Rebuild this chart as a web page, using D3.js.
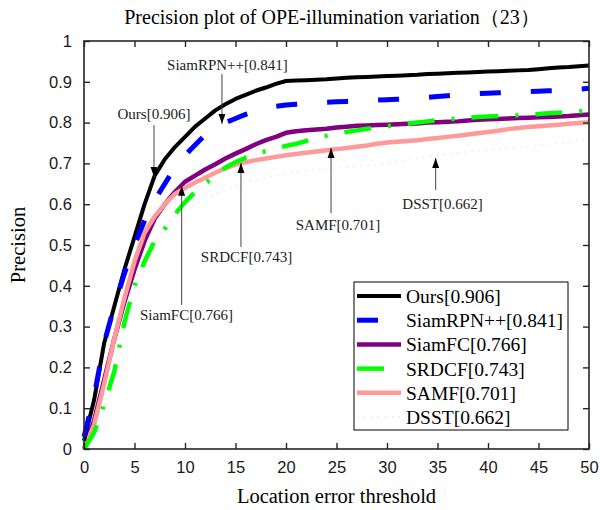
<!DOCTYPE html>
<html>
<head>
<meta charset="utf-8">
<script src="https://cdn.jsdelivr.net/npm/d3@7"></script>
<style>
  body { margin: 0; background: #fff; }
  svg { display: block; }
</style>
</head>
<body>
<svg></svg>
<script>
const width = 600;
const height = 510;

// location error thresholds (px)
const thresholds = d3.range(0, 51);
const xTicks = [0, 5, 10, 15, 20, 25, 30, 35, 40, 45, 50];
const yTicks = [0, 0.1, 0.2, 0.3, 0.4, 0.5, 0.6, 0.7, 0.8, 0.9, 1];

const ours = [0.02,0.12,0.26,0.35,0.44,0.52,0.60,0.67,0.71,0.74,
  0.765,0.79,0.81,0.83,0.845,0.858,0.868,0.878,0.886,0.895,
  0.902,0.903,0.904,0.905,0.906,0.908,0.910,0.911,0.912,0.913,
  0.914,0.915,0.916,0.917,0.919,0.920,0.921,0.922,0.923,0.924,
  0.925,0.926,0.927,0.928,0.929,0.931,0.933,0.935,0.936,0.938,
  0.940];
const siamrpn = [0.03,0.13,0.26,0.35,0.43,0.50,0.56,0.61,0.65,0.69,
  0.72,0.745,0.77,0.785,0.80,0.81,0.82,0.828,0.835,0.84,
  0.843,0.845,0.847,0.849,0.85,0.851,0.852,0.853,0.854,0.855,
  0.856,0.857,0.858,0.86,0.862,0.864,0.866,0.868,0.87,0.871,
  0.872,0.873,0.874,0.875,0.876,0.877,0.878,0.879,0.88,0.882,
  0.884];
const siamfc = [0.0,0.07,0.17,0.27,0.36,0.44,0.51,0.565,0.60,0.63,
  0.655,0.67,0.685,0.698,0.712,0.724,0.735,0.747,0.757,0.765,
  0.775,0.779,0.781,0.783,0.785,0.788,0.79,0.792,0.793,0.794,
  0.795,0.796,0.797,0.798,0.80,0.801,0.802,0.803,0.805,0.807,
  0.808,0.809,0.81,0.811,0.812,0.813,0.814,0.815,0.816,0.818,
  0.82];
const srdcf = [0.0,0.04,0.11,0.19,0.31,0.40,0.46,0.51,0.54,0.575,
  0.605,0.63,0.65,0.67,0.69,0.703,0.714,0.722,0.73,0.737,
  0.743,0.748,0.755,0.762,0.768,0.773,0.777,0.781,0.785,0.788,
  0.791,0.794,0.797,0.80,0.803,0.806,0.808,0.81,0.812,0.814,
  0.815,0.816,0.817,0.818,0.82,0.821,0.823,0.824,0.825,0.827,
  0.829];
const samf = [0.0,0.06,0.16,0.27,0.37,0.46,0.53,0.57,0.60,0.625,
  0.64,0.653,0.665,0.677,0.688,0.697,0.703,0.708,0.712,0.716,
  0.72,0.723,0.726,0.729,0.732,0.735,0.738,0.741,0.744,0.748,
  0.751,0.753,0.755,0.757,0.76,0.762,0.765,0.768,0.771,0.774,
  0.777,0.78,0.784,0.787,0.789,0.791,0.793,0.795,0.797,0.799,
  0.801];
const dsst = [0.0,0.05,0.14,0.24,0.33,0.41,0.47,0.51,0.54,0.57,
  0.59,0.60,0.61,0.625,0.635,0.645,0.653,0.66,0.665,0.67,
  0.675,0.678,0.681,0.684,0.687,0.689,0.691,0.693,0.695,0.697,
  0.70,0.704,0.708,0.712,0.716,0.72,0.723,0.726,0.729,0.731,
  0.733,0.735,0.737,0.739,0.741,0.744,0.747,0.75,0.752,0.755,
  0.757];

const trackers = ["Ours[0.906]", "SiamRPN++[0.841]", "SiamFC[0.766]", "SRDCF[0.743]", "SAMF[0.701]", "DSST[0.662]"];
const seriesValues = [ours, siamrpn, siamfc, srdcf, samf, dsst];

// arrow callouts, in data units
const callouts = [
  {label: "SiamRPN++[0.841]", x: 13.66, tip: 0.797, tail: 0.919, tx: 14.2, ty: 0.929},
  {label: "Ours[0.906]", x: 6.93, tip: 0.667, tail: 0.794, tx: 6.93, ty: 0.809},
  {label: "SiamFC[0.766]", x: 9.67, tip: 0.645, tail: 0.353, tx: 10.15, ty: 0.316},
  {label: "SRDCF[0.743]", x: 15.54, tip: 0.701, tail: 0.495, tx: 16.09, ty: 0.458},
  {label: "SAMF[0.701]", x: 24.46, tip: 0.738, tail: 0.578, tx: 25.15, ty: 0.537},
  {label: "DSST[0.662]", x: 34.82, tip: 0.713, tail: 0.635, tx: 35.5, ty: 0.588}
];

const styles = [
  {color: "#000000", w: 4, dash: null},
  {color: "#0000ff", w: 5, dash: "21,30"},
  {color: "#800080", w: 4.5, dash: null},
  {color: "#00ff00", w: 4.5, dash: "27,17,3,17"},
  {color: "#ff9a9a", w: 4.5, dash: null},
  {color: "#d6ecfb", w: 2, dash: "1,6"}
];
const drawOrder = [5, 2, 4, 3, 0, 1];

const margin = {left: 84, right: 11, top: 41, bottom: 61};
const svg = d3.select("svg").attr("width", width).attr("height", height);

const x = d3.scaleLinear().domain([0, 50]).range([margin.left, width - margin.right]);
const y = d3.scaleLinear().domain([0, 1]).range([height - margin.bottom, margin.top]);

const serif = "'Liberation Serif', 'Times New Roman', serif";
const sans = "'Liberation Sans', Arial, sans-serif";

// lines
const line = d3.line().x((d, i) => x(thresholds[i])).y(d => y(d));
const linesG = svg.append("g");
linesG.selectAll("path")
  .data(drawOrder)
  .enter().append("path")
  .attr("d", k => line(seriesValues[k]))
  .attr("fill", "none")
  .attr("stroke", k => styles[k].color)
  .attr("stroke-width", k => styles[k].w)
  .attr("stroke-dasharray", k => styles[k].dash)
  .attr("stroke-linejoin", "round");

// axes (box with inward ticks)
const axisColor = "#262626";
const tickLen = 6;
const axG = svg.append("g");
axG.append("rect")
  .attr("x", x(0)).attr("y", y(1))
  .attr("width", x(50) - x(0)).attr("height", y(0) - y(1))
  .attr("fill", "none").attr("stroke", axisColor).attr("stroke-width", 1.6);

const bottomAxis = d3.axisBottom(x).tickValues(xTicks).tickSize(-tickLen).tickPadding(12).tickFormat(d3.format("d"));
const topAxis = d3.axisTop(x).tickValues(xTicks).tickSize(-tickLen).tickFormat("");
const leftAxis = d3.axisLeft(y).tickValues(yTicks).tickSize(-tickLen).tickPadding(12).tickFormat(d => d === 0 || d === 1 ? d3.format("d")(d) : d3.format(".1f")(d));
const rightAxis = d3.axisRight(y).tickValues(yTicks).tickSize(-tickLen).tickFormat("");

const styleAxis = g => {
  g.select(".domain").remove();
  g.selectAll(".tick line").attr("stroke", axisColor).attr("stroke-width", 1.4);
  g.selectAll(".tick text").attr("fill", "#1a1a1a").style("font-family", sans).style("font-size", "16.5px");
};
axG.append("g").attr("transform", `translate(0,${y(0)})`).call(bottomAxis).call(styleAxis);
axG.append("g").attr("transform", `translate(0,${y(1)})`).call(topAxis).call(styleAxis);
axG.append("g").attr("transform", `translate(${x(0)},0)`).call(leftAxis).call(styleAxis);
axG.append("g").attr("transform", `translate(${x(50)},0)`).call(rightAxis).call(styleAxis);

// callouts
svg.append("defs").append("marker")
  .attr("id", "head")
  .attr("viewBox", "0 0 10 10")
  .attr("refX", 10).attr("refY", 5)
  .attr("markerWidth", 10).attr("markerHeight", 10)
  .attr("markerUnits", "userSpaceOnUse")
  .attr("orient", "auto")
  .append("path").attr("d", "M0,1.5 L10,5 L0,8.5 Z").attr("fill", "#000");

const callG = svg.append("g");
callG.selectAll("line")
  .data(callouts)
  .enter().append("line")
  .attr("x1", d => x(d.x)).attr("x2", d => x(d.x))
  .attr("y1", d => y(d.tail)).attr("y2", d => y(d.tip))
  .attr("stroke", "#444").attr("stroke-width", 1)
  .attr("marker-end", "url(#head)");
callG.selectAll("text")
  .data(callouts)
  .enter().append("text")
  .attr("x", d => x(d.tx)).attr("y", d => y(d.ty))
  .attr("text-anchor", "middle")
  .style("font-family", serif).style("font-size", "15px")
  .attr("fill", "#222")
  .text(d => d.label);

// legend
const leg = svg.append("g").attr("transform", "translate(354,282)");
leg.append("rect").attr("width", 214).attr("height", 148)
  .attr("fill", "#fff").attr("stroke", "#000").attr("stroke-width", 1);
const rows = leg.selectAll("g.row")
  .data(d3.range(trackers.length))
  .enter().append("g").attr("class", "row")
  .attr("transform", i => `translate(0,${14 + i * 24.2})`);
rows.append("line")
  .attr("x1", 3).attr("x2", 47).attr("y1", 0).attr("y2", 0)
  .attr("stroke", i => styles[i].color)
  .attr("stroke-width", i => styles[i].w)
  .attr("stroke-dasharray", i => styles[i].dash);
rows.append("text")
  .attr("x", 52).attr("y", 7)
  .style("font-family", serif).style("font-size", "19.5px")
  .attr("fill", "#000")
  .text(i => trackers[i]);

// titles
svg.append("text")
  .attr("x", 332).attr("y", 24)
  .attr("text-anchor", "middle")
  .style("font-family", serif).style("font-size", "20px")
  .text("Precision plot of OPE-illumination variation（23）");
svg.append("text")
  .attr("x", (x(0) + x(50)) / 2).attr("y", 503)
  .attr("text-anchor", "middle")
  .style("font-family", serif).style("font-size", "20.5px")
  .text("Location error threshold");
svg.append("text")
  .attr("transform", `translate(25,${(y(0) + y(1)) / 2}) rotate(-90)`)
  .attr("text-anchor", "middle")
  .style("font-family", serif).style("font-size", "20.5px")
  .text("Precision");
</script>
</body>
</html>
